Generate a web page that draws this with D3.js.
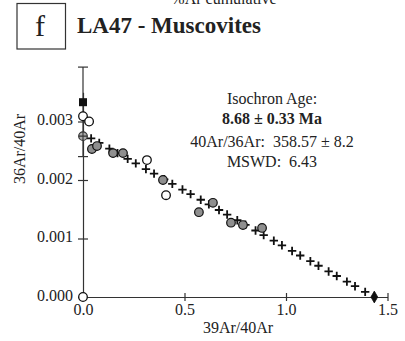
<!DOCTYPE html>
<html><head><meta charset="utf-8">
<script src="https://cdn.jsdelivr.net/npm/d3@7"></script>
<style>
body{margin:0;background:#fff;}
text{font-family:"Liberation Serif","Times New Roman",serif;fill:#222;}
</style></head>
<body><svg id="c" width="405" height="341"></svg>
<script>
// isochron fit points (crosses)
const fitX = [0.04,0.08,0.13,0.17,0.22,0.26,0.31,0.35,0.40,0.44,0.49,0.53,0.58,0.62,0.67,0.71,0.76,0.80,0.85,0.89,0.94,0.98,1.03,1.07,1.12,1.16,1.21,1.25,1.30,1.34,1.39];
const fitY = [0.002711,0.002633,0.002536,0.002459,0.002361,0.002284,0.002186,0.002109,0.002012,0.001934,0.001837,0.001759,0.001662,0.001584,0.001487,0.001409,0.001312,0.001234,0.001137,0.001059,0.000962,0.000884,0.000787,0.000709,0.000612,0.000534,0.000437,0.000359,0.000262,0.000185,0.000087];
// measured steps used (gray)
const grayX = [0.044,0.069,0.148,0.197,0.394,0.571,0.640,0.729,0.788,0.882];
const grayY = [0.00253,0.00258,0.00246,0.00246,0.00200,0.00145,0.00161,0.00127,0.00123,0.00118];
// excluded steps (open)
const openX = [0.0,0.03,0.315,0.409,0.0];
const openY = [0.00309,0.00300,0.00234,0.00174,0.0];
// special points
const crossedCircle = [0.0,0.00275];
const squarePt = [0.0,0.00333];
const errLow = 0.00240, errHigh = 0.00393;
const diamondPt = [1.435,0.0];
const xTicks = [0,0.5,1.0,1.5];
const yTicks = [0,0.001,0.002,0.003];
const xTickLabels = ["0.0","0.5","1.0","1.5"];
const yTickLabels = ["0.000","0.001","0.002","0.003"];

const svg = d3.select("#c");
const x = d3.scaleLinear().domain([0,1.5]).range([83,387.5]);
const y = d3.scaleLinear().domain([0,0.0035]).range([297,92.25]);
const axisColor = "#333";

// top cut-off label
svg.append("text").attr("x",224).attr("y",4).attr("text-anchor","middle").style("font-size","16px").text("%Ar cumulative");
// panel box
svg.append("rect").attr("x",17).attr("y",3.5).attr("width",48.5).attr("height",45.5).attr("fill","none").attr("stroke","#333").attr("stroke-width",1.2);
svg.append("text").attr("x",40).attr("y",36).attr("text-anchor","middle").style("font-size","30px").text("f");
svg.append("text").attr("x",77).attr("y",33).style("font-size","23px").style("font-weight","bold").text("LA47 - Muscovites");

// x axis
const xAxis = d3.axisBottom(x).tickValues(xTicks).tickFormat((d,i)=>xTickLabels[i]).tickSize(0).tickPadding(10);
const gx = svg.append("g").attr("transform",`translate(0,${y(0)})`).call(xAxis);
gx.select(".domain").attr("stroke",axisColor).attr("stroke-width",1.2);
gx.selectAll(".tick text").style("font-size","16px").style("font-family","Liberation Serif").attr("fill","#222").attr("dy","0.85em").attr("y",4);
gx.selectAll(".tick").append("line").attr("y1",-4).attr("y2",4).attr("stroke",axisColor).attr("stroke-width",1.2);

// y axis
const yAxis = d3.axisLeft(y).tickValues(yTicks).tickFormat((d,i)=>yTickLabels[i]).tickSize(0).tickPadding(10);
const gy = svg.append("g").attr("transform",`translate(${x(0)},0)`).call(yAxis);
gy.select(".domain").attr("stroke",axisColor).attr("stroke-width",1.2);
gy.selectAll(".tick text").style("font-size","16px").style("font-family","Liberation Serif").attr("fill","#222").attr("x",-10).attr("dy","0.2em");
gy.selectAll(".tick").append("line").attr("x1",-5).attr("x2",5).attr("stroke",axisColor).attr("stroke-width",1.2);

// axis titles
svg.append("text").attr("x",238).attr("y",333).attr("text-anchor","middle").style("font-size","16px").text("39Ar/40Ar");
svg.append("text").attr("transform","translate(25,149) rotate(-90)").attr("text-anchor","middle").style("font-size","16px").text("36Ar/40Ar");

// annotation
const ax = 272;
svg.append("text").attr("x",ax).attr("y",104).attr("text-anchor","middle").style("font-size","16px").text("Isochron Age:");
svg.append("text").attr("x",ax).attr("y",124).attr("text-anchor","middle").style("font-size","16px").style("font-weight","bold").text("8.68 ± 0.33 Ma");
svg.append("text").attr("x",ax).attr("y",147).attr("text-anchor","middle").style("font-size","16px").style("white-space","pre").text("40Ar/36Ar:  358.57 ± 8.2");
svg.append("text").attr("x",ax).attr("y",167).attr("text-anchor","middle").style("font-size","16px").style("white-space","pre").text("MSWD:  6.43");

// error bar
const eg = svg.append("g").attr("stroke","#333").attr("stroke-width",1.2);
eg.append("line").attr("x1",x(squarePt[0])).attr("x2",x(squarePt[0])).attr("y1",y(errHigh)).attr("y2",y(errLow));
eg.append("line").attr("x1",x(0)-5).attr("x2",x(0)+5).attr("y1",y(errHigh)).attr("y2",y(errHigh));
eg.append("line").attr("x1",x(0)-5).attr("x2",x(0)+5).attr("y1",y(errLow)).attr("y2",y(errLow));

// crosses
const cs = 4.2;
svg.append("g").selectAll("path").data(fitX).join("path")
  .attr("d",(d,i)=>{const px=x(d),py=y(fitY[i]);return `M${px-cs},${py}H${px+cs}M${px},${py-cs}V${py+cs}`;})
  .attr("stroke","#111").attr("stroke-width",1.8).attr("fill","none");

// open circles
svg.append("g").selectAll("circle").data(openX).join("circle")
  .attr("cx",d=>x(d)).attr("cy",(d,i)=>y(openY[i])).attr("r",4.3)
  .attr("fill","#fff").attr("stroke","#111").attr("stroke-width",1.3);

// crossed circle
const cc = svg.append("g");
cc.append("circle").attr("cx",x(crossedCircle[0])).attr("cy",y(crossedCircle[1])).attr("r",4.3).attr("fill","#aaa").attr("stroke","#333").attr("stroke-width",1.2);
cc.append("path").attr("d",`M${x(crossedCircle[0])-4.3},${y(crossedCircle[1])}H${x(crossedCircle[0])+4.3}M${x(crossedCircle[0])},${y(crossedCircle[1])-4.3}V${y(crossedCircle[1])+4.3}`).attr("stroke","#333").attr("stroke-width",1.1);

// gray circles
svg.append("g").selectAll("circle").data(grayX).join("circle")
  .attr("cx",d=>x(d)).attr("cy",(d,i)=>y(grayY[i])).attr("r",4.3)
  .attr("fill","#8f8f8f").attr("stroke","#111").attr("stroke-width",1.2);

// square
svg.append("rect").attr("x",x(squarePt[0])-4).attr("y",y(squarePt[1])-4).attr("width",8).attr("height",8).attr("fill","#111");
// diamond
svg.append("path").attr("d",d3.symbol(d3.symbolDiamond,40)()).attr("transform",`translate(${x(diamondPt[0])},${y(diamondPt[1])})`).attr("fill","#111").attr("stroke","#111").attr("stroke-width",0.8);
</script></body></html>
